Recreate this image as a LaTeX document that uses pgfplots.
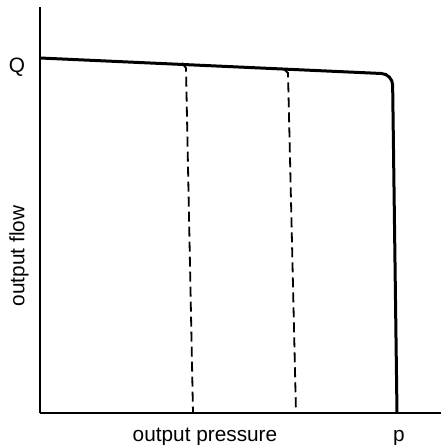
\documentclass[border=0pt]{standalone}
\usepackage{pgfplots}
\pgfplotsset{compat=1.18}
\usepackage{fontspec}
\setmainfont{Liberation Sans}
\begin{document}
\begin{tikzpicture}
\begin{axis}[
  scale only axis,
  width=200.5pt, height=203pt,
  xmin=40, xmax=441, ymin=0, ymax=406,
  axis x line=bottom, axis y line=left,
  every outer x axis line/.append style={-, line width=1pt},
  every outer y axis line/.append style={-, line width=1pt},
  axis line style={-, line width=1pt},
  xtick=\empty, ytick=\empty,
  clip=false,
  font=\fontsize{10.4}{12}\selectfont,
]
\addplot[black, line width=1.5pt, rounded corners=5.5pt] coordinates {(40,355) (392.5,339) (397,0)};
\addplot[black, line width=0.9pt, dash pattern=on 5pt off 2.5pt] coordinates {(182,350) (186,345) (193,0)};
\addplot[black, line width=0.9pt, dash pattern=on 5pt off 2.5pt] coordinates {(284,344) (288,340) (296,0)};
\node at (axis cs:17,346) {Q};
\node[anchor=base] at (axis cs:399,-28) {p};
\node[anchor=base] at (axis cs:205,-28) {output pressure};
\node[rotate=90] at (axis cs:19,157) {output flow};
\coordinate (bl) at (axis cs:0,-32);
\coordinate (tr) at (axis cs:441,413);
\end{axis}
\pgfresetboundingbox
\path (bl) rectangle (tr);
\end{tikzpicture}
\end{document}
